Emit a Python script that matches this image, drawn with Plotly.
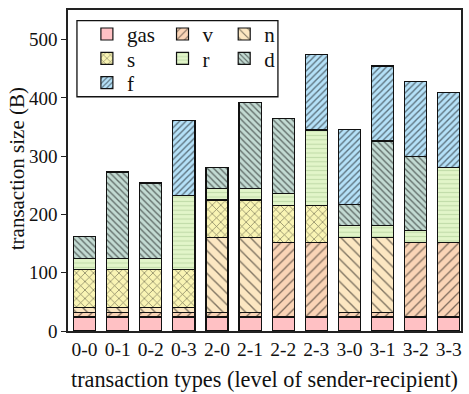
import plotly.graph_objects as go

categories = ["0-0", "0-1", "0-2", "0-3", "2-0", "2-1", "2-2", "2-3", "3-0", "3-1", "3-2", "3-3"]
gas = [24, 24, 24, 24, 24, 24, 24, 24, 24, 24, 24, 24]
v = [8, 8, 8, 8, 8, 8, 128, 128, 8, 8, 128, 128]
n = [9, 9, 9, 9, 129, 129, 0, 0, 129, 129, 0, 0]
s = [64, 64, 64, 64, 64, 64, 64, 64, 0, 0, 0, 0]
r = [20, 20, 20, 128, 20, 20, 20, 129, 20, 20, 20, 128]
d = [37, 148, 129, 0, 36, 147, 129, 0, 36, 145, 128, 0]
f = [0, 0, 0, 129, 0, 0, 0, 129, 129, 129, 128, 129]

FONT = "Liberation Serif, Times New Roman, Tinos, Times, serif"

# name, values, fill, pattern shape, pattern colour, pattern size, solidity
series = [
    ("gas", gas, "#FFC1C4", "", "#000000", 8, 0.2),
    ("v", v, "#FAD4B6", "/", "#000000", 7, 0.18),
    ("n", n, "#FCE7C2", "\\", "#000000", 8, 0.17),
    ("s", s, "#F9F4B4", "x", "#000000", 6, 0.22),
    ("r", r, "#E2F5C9", "-", "#9DBF88", 4.4, 0.25),
    ("d", d, "#C2DAD2", "\\", "#000000", 4.5, 0.3),
    ("f", f, "#B5E1F8", "/", "#000000", 4.5, 0.3),
]

# legend cell layout (text-left px, row-centre px) mimicking 3-column legend
cells = [(127, 34.5), (203, 34.5), (265, 34.5),
         (127, 59), (203, 59), (265, 59),
         (127, 83.5)]

PL, PR, PT, PB = 68, 463, 10, 333
PW, PH = PR - PL, PB - PT

fig = go.Figure()
legends = {}
for i, ((name, vals, color, shape, fg, size, sol), (tx, ty)) in enumerate(zip(series, cells)):
    key = "legend" if i == 0 else f"legend{i + 1}"
    fig.add_trace(go.Bar(
        x=categories, y=vals, name=name, width=0.67,
        legend=key, showlegend=True,
        marker=dict(
            color=color,
            line=dict(color="#111111", width=1.2),
            pattern=dict(shape=shape, fgcolor=fg, size=size, solidity=sol, bgcolor=color),
        ),
    ))
    legends[key] = dict(
        orientation="v", x=(tx - 40 - PL) / PW, xanchor="left",
        y=(PB - ty) / PH, yanchor="middle",
        bgcolor="rgba(0,0,0,0)", borderwidth=0,
        font=dict(family=FONT, size=21, color="#111111"),
        itemwidth=30, visible=True,
    )

fig.update_layout(
    width=469, height=394,
    margin=dict(l=PL, r=469 - PR, t=PT, b=394 - PB),
    barmode="stack",
    showlegend=True,
    plot_bgcolor="white", paper_bgcolor="white",
    font=dict(family=FONT, size=19, color="#111111"),
    **legends,
    xaxis=dict(
        range=[-0.5, 11.37],
        showline=True, mirror=True, linecolor="#222222", linewidth=1.5,
        ticks="", tickfont=dict(family=FONT, size=19.5),
        title=dict(text="transaction types (level of sender-recipient)",
                   font=dict(family=FONT, size=22.3), standoff=12),
    ),
    yaxis=dict(
        range=[0, 551],
        tickvals=[0, 100, 200, 300, 400, 500],
        showline=True, mirror=True, linecolor="#222222", linewidth=1.5,
        ticks="outside", ticklen=5, tickcolor="#222222", tickwidth=1.2,
        showgrid=False, zeroline=False,
        tickfont=dict(family=FONT, size=19),
    ),
    annotations=[dict(
        text="transaction size (B)", textangle=-90,
        xref="paper", yref="paper", x=(17 - PL) / PW, y=(PB - 170) / PH,
        xanchor="center", yanchor="middle", showarrow=False,
        font=dict(family=FONT, size=21, color="#111111"),
    )],
    shapes=[dict(
        type="rect", xref="paper", yref="paper",
        x0=(77 - PL) / PW, x1=(279 - PL) / PW,
        y0=(PB - 97.3) / PH, y1=(PB - 20.7) / PH,
        line=dict(color="#111111", width=1.3), fillcolor="rgba(0,0,0,0)", layer="above",
    )],
)

fig.write_html("out.html")
